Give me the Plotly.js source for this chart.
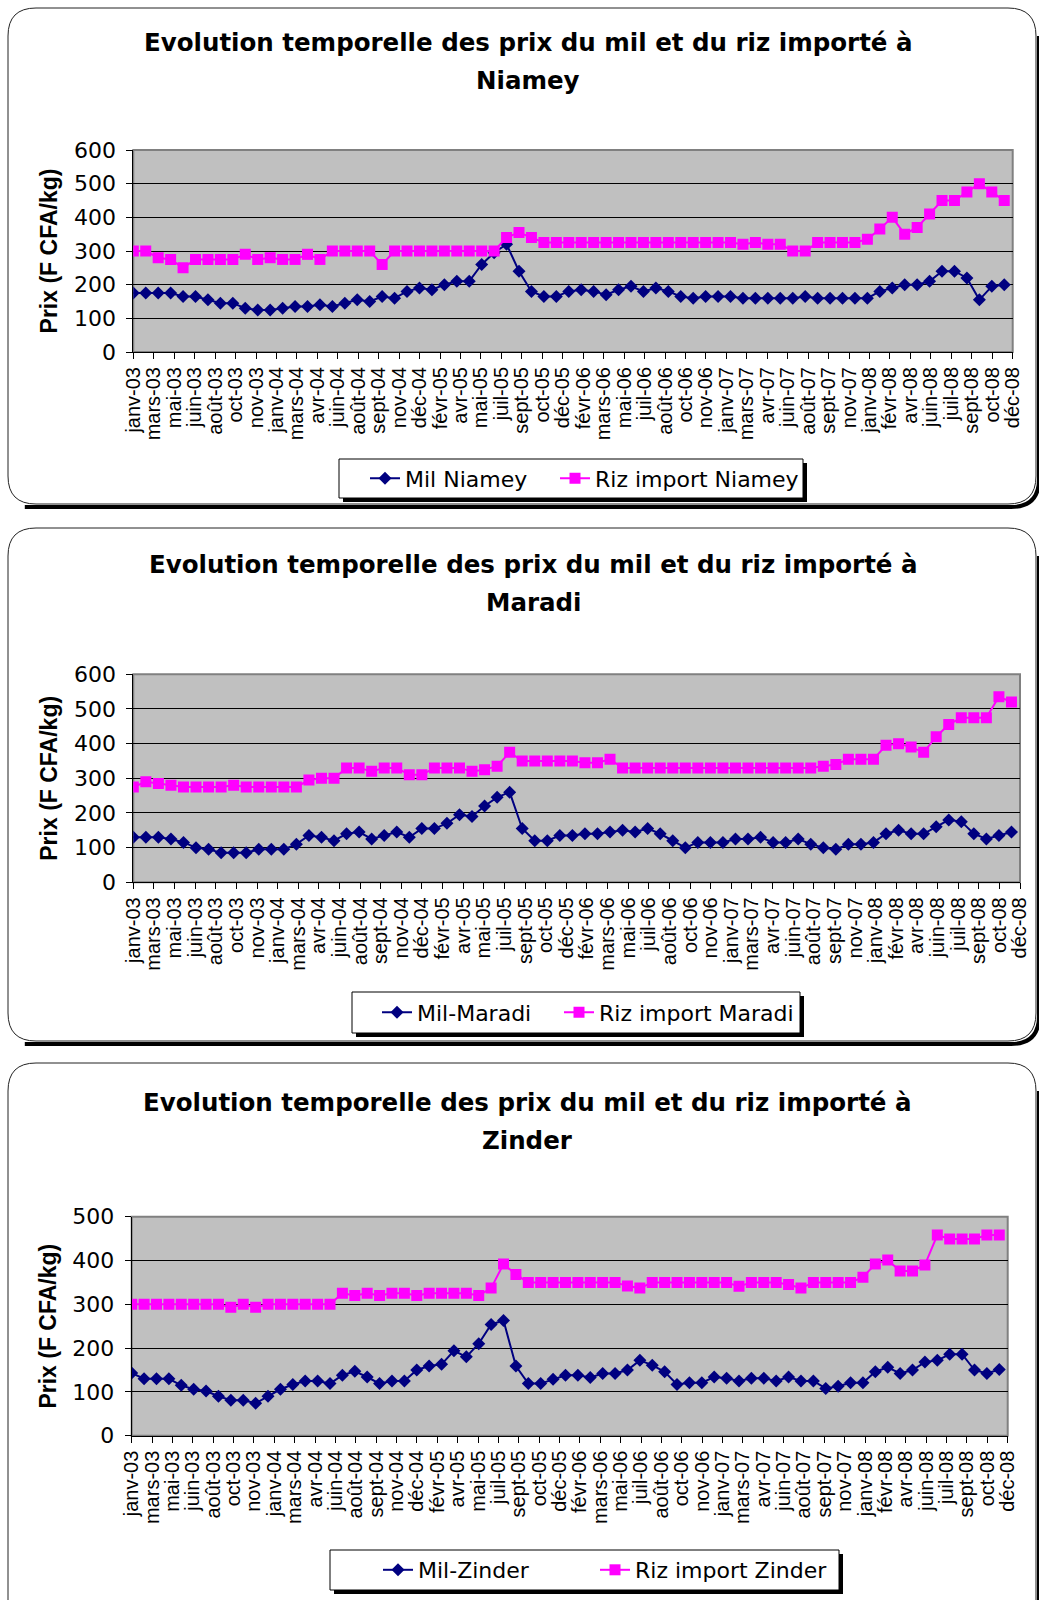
<!DOCTYPE html>
<html><head><meta charset="utf-8">
<script src="https://cdn.plot.ly/plotly-3.0.1.min.js"></script>
<style>html,body{margin:0;padding:0;background:#fff}#chart{width:1039px;height:1600px}</style>
</head><body><div id="chart"></div>
<script>
// ---------- DATA ----------
const tickLabels = ['janv-03','mars-03','mai-03','juin-03','août-03','oct-03','nov-03','janv-04','mars-04','avr-04','juin-04','août-04','sept-04','nov-04','déc-04','févr-05','avr-05','mai-05','juil-05','sept-05','oct-05','déc-05','févr-06','mars-06','mai-06','juil-06','août-06','oct-06','nov-06','janv-07','mars-07','avr-07','juin-07','août-07','sept-07','nov-07','janv-08','févr-08','avr-08','juin-08','juil-08','sept-08','oct-08','déc-08'];

const milNiamey = [175,175,175,175,165,165,155,145,145,130,125,125,130,135,135,140,135,145,155,150,165,160,180,190,185,200,210,210,260,295,320,240,180,165,165,
  180,185,180,170,185,195,180,190,180,165,160,165,165,165,160,160,160,160,160,165,160,160,160,160,160,180,190,200,200,210,240,240,220,155,195,200];
const rizNiamey = [300,300,280,275,250,275,275,275,275,290,275,280,275,275,290,275,300,300,300,300,260,300,300,300,300,300,300,300,300,300,340,355,340,325,325,
  325,325,325,325,325,325,325,325,325,325,325,325,325,325,320,325,320,320,300,300,325,325,325,325,335,365,400,350,370,410,450,450,475,500,475,450];

const milMaradi = [130,130,130,125,115,100,95,85,85,85,95,95,95,110,135,130,120,140,145,125,135,145,130,155,155,170,195,190,220,245,260,155,120,120,135,
  135,140,140,145,150,145,155,140,120,100,115,115,115,125,125,130,115,115,125,110,100,95,110,110,115,140,150,140,140,160,180,175,140,125,135,145];
const rizMaradi = [275,290,285,280,275,275,275,275,280,275,275,275,275,275,295,300,300,330,330,320,330,330,310,310,330,330,330,320,325,335,375,350,350,350,350,
  350,345,345,355,330,330,330,330,330,330,330,330,330,330,330,330,330,330,330,330,335,340,355,355,355,395,400,390,375,420,455,475,475,475,535,520];

const milZinder = [143,130,130,130,115,106,102,90,81,81,74,90,106,117,125,125,119,138,147,134,119,125,125,150,159,163,194,180,210,254,263,159,119,119,129,138,
  138,133,142,142,150,172,161,146,117,121,121,134,131,125,131,131,125,134,125,125,108,113,121,121,146,156,142,150,168,172,186,186,150,142,151];
const rizZinder = [300,300,300,300,300,300,300,300,293,300,293,300,300,300,300,300,300,325,320,325,320,325,325,320,325,325,325,325,320,337,392,368,350,350,350,350,
  350,350,350,350,342,337,350,350,350,350,350,350,350,341,350,350,350,345,337,350,350,350,350,362,392,401,376,376,390,458,449,449,449,458,458];

const cities = ['Niamey','Maradi','Zinder'];
const milNames = ['Mil Niamey','Mil-Maradi','Mil-Zinder'];
const rizNames = ['Riz import Niamey','Riz import Maradi','Riz import Zinder'];
const milSeries = [milNiamey, milMaradi, milZinder];
const rizSeries = [rizNiamey, rizMaradi, rizZinder];
const yMax = [600, 600, 500];

// ---------- LAYOUT HELPERS ----------
const W = 1039, H = 1600;
const fx = p => p / W;
const fy = p => 1 - p / H;
const XMAX = 70.68;

const panels = [
  {plot:[133.3,150,1012.7,352], title:[528,43,80], legendX:365, legendW:145, legendBox:[339,459,803,498], card:[8,8,1036,504]},
  {plot:[133.3,674.3,1020,882.3], title:[533,564.5,602], legendX:377, legendW:137, legendBox:[352,992,800,1033], card:[8,528,1036,1041]},
  {plot:[131.7,1216.7,1007.7,1435.7], title:[527,1102,1140], legendX:378, legendW:172, legendBox:[330,1550,839,1590], card:[8,1063,1036,1640]}
];

const tickVals = tickLabels.map((_, i) => i * XMAX / (tickLabels.length - 1));

const traces = [];
const layout = {
  width: W, height: H,
  margin: {l:0, r:0, t:0, b:0},
  paper_bgcolor: '#ffffff',
  plot_bgcolor: '#c0c0c0',
  showlegend: true,
  annotations: [],
  shapes: []
};

function rr(x0, y0, x1, y1, r) {
  return `M${fx(x0 + r)},${fy(y0)} L${fx(x1 - r)},${fy(y0)} Q${fx(x1)},${fy(y0)} ${fx(x1)},${fy(y0 + r)} ` +
         `L${fx(x1)},${fy(y1 - r)} Q${fx(x1)},${fy(y1)} ${fx(x1 - r)},${fy(y1)} ` +
         `L${fx(x0 + r)},${fy(y1)} Q${fx(x0)},${fy(y1)} ${fx(x0)},${fy(y1 - r)} ` +
         `L${fx(x0)},${fy(y0 + r)} Q${fx(x0)},${fy(y0)} ${fx(x0 + r)},${fy(y0)} Z`;
}
function shadowPath(x0, y0, x1, y1, r, o) {
  return `M${fx(x0 + r * 0.6)},${fy(y1 + o)} L${fx(x1 - r + o)},${fy(y1 + o)} Q${fx(x1 + o)},${fy(y1 + o)} ${fx(x1 + o)},${fy(y1 - r + o)} ` +
         `L${fx(x1 + o)},${fy(y0 + r)}`;
}

panels.forEach((p, i) => {
  const n = i === 0 ? '' : String(i + 1);
  const xa = 'xaxis' + n, ya = 'yaxis' + n;
  const xr = 'x' + n, yr = 'y' + n;
  const lg = 'legend' + n;
  const [px0, py0, px1, py1] = p.plot;

  const xs = milSeries[i].map((_, k) => k);
  traces.push({
    type: 'scatter', mode: 'lines+markers', name: milNames[i],
    x: xs, y: milSeries[i], xaxis: xr, yaxis: yr, legend: lg, legendwidth: p.legendW,
    line: {color: '#000080', width: 2},
    marker: {symbol: 'diamond', size: 10, color: '#000080'}
  });
  traces.push({
    type: 'scatter', mode: 'lines+markers', name: rizNames[i],
    x: xs, y: rizSeries[i], xaxis: xr, yaxis: yr, legend: lg,
    line: {color: '#ff00ff', width: 2},
    marker: {symbol: 'square', size: 11, color: '#ff00ff'}
  });

  layout[xa] = {
    domain: [fx(px0), fx(px1)], anchor: yr, range: [0, XMAX],
    tickmode: 'array', tickvals: tickVals, ticktext: tickLabels, tickangle: -90,
    tickfont: {family: 'Liberation Sans, Arial, sans-serif', size: 20, color: '#000'},
    ticks: 'outside', ticklen: 6, tickcolor: '#000', tickwidth: 1,
    showline: true, linecolor: '#000', linewidth: 1,
    showgrid: false, zeroline: false, fixedrange: true
  };
  layout[ya] = {
    domain: [fy(py1), fy(py0)], anchor: xr, range: [0, yMax[i]], dtick: 100, tick0: 0,
    tickfont: {family: 'DejaVu Sans, sans-serif', size: 22, color: '#000'},
    ticks: 'outside', ticklen: 6, tickcolor: '#000', tickwidth: 1, ticklabelstandoff: 6,
    showline: true, linecolor: '#000', linewidth: 1,
    showgrid: true, gridcolor: '#000', gridwidth: 1, zeroline: false, fixedrange: true,
    title: {text: '<b>Prix (F CFA/kg)</b>', font: {family: 'Liberation Sans, Arial, sans-serif', size: 23, color: '#000'}, standoff: 9}
  };
  layout[lg] = {
    orientation: 'h', x: fx(p.legendX), y: fy((p.legendBox[1] + p.legendBox[3]) / 2),
    xanchor: 'left', yanchor: 'middle', xref: 'paper', yref: 'paper',
    bgcolor: 'rgba(0,0,0,0)', borderwidth: 0,
    font: {family: 'DejaVu Sans, sans-serif', size: 22, color: '#000'},
    traceorder: 'normal'
  };

  // titles
  layout.annotations.push({
    xref: 'paper', yref: 'paper', x: fx(p.title[0]), y: fy(p.title[1]), xanchor: 'center', yanchor: 'middle',
    text: '<b>Evolution temporelle des prix du mil et du riz importé à</b>', showarrow: false,
    font: {family: 'DejaVu Sans, sans-serif', size: 24.5, color: '#000'}
  });
  layout.annotations.push({
    xref: 'paper', yref: 'paper', x: fx(p.title[0]), y: fy(p.title[2]), xanchor: 'center', yanchor: 'middle',
    text: '<b>' + cities[i] + '</b>', showarrow: false,
    font: {family: 'DejaVu Sans, sans-serif', size: 24.5, color: '#000'}
  });

  // plot area grey border
  layout.shapes.push({
    type: 'rect', xref: xr + ' domain', yref: yr + ' domain', x0: 0, x1: 1, y0: 0, y1: 1,
    line: {color: '#808080', width: 2}, fillcolor: 'rgba(0,0,0,0)', layer: 'below'
  });

  // card frame + shadow
  const [cx0, cy0, cx1, cy1] = p.card;
  layout.shapes.push({
    type: 'path', xref: 'paper', yref: 'paper', path: shadowPath(cx0, cy0, cx1, cy1, 28, 3),
    line: {color: '#000', width: 4}, fillcolor: 'rgba(0,0,0,0)', layer: 'below'
  });
  layout.shapes.push({
    type: 'path', xref: 'paper', yref: 'paper', path: rr(cx0, cy0, cx1, cy1, 28),
    line: {color: '#222', width: 1}, fillcolor: 'rgba(0,0,0,0)', layer: 'below'
  });

  // legend box with shadow
  const [lx0, ly0, lx1, ly1] = p.legendBox;
  layout.shapes.push({
    type: 'rect', xref: 'paper', yref: 'paper', x0: fx(lx0 + 4), x1: fx(lx1 + 4), y0: fy(ly1 + 4), y1: fy(ly0 + 4),
    fillcolor: '#000', line: {width: 0}, layer: 'above'
  });
  layout.shapes.push({
    type: 'rect', xref: 'paper', yref: 'paper', x0: fx(lx0), x1: fx(lx1), y0: fy(ly1), y1: fy(ly0),
    fillcolor: '#fff', line: {color: '#000', width: 1}, layer: 'above'
  });
});

Plotly.newPlot('chart', traces, layout, {staticPlot: true, displayModeBar: false});
</script>
</body></html>
